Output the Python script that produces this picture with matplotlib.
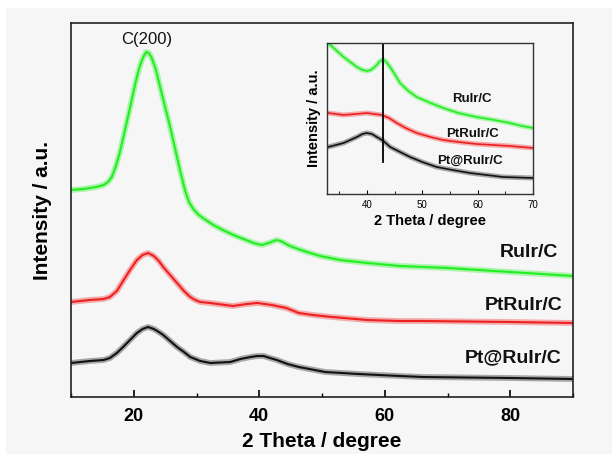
import matplotlib
matplotlib.use("Agg")
import matplotlib.pyplot as plt
from matplotlib.patches import Rectangle
from matplotlib.ticker import MultipleLocator

plt.rcParams['font.family'] = ['Liberation Sans', 'DejaVu Sans']

# ---------------- main panel data (2 Theta, intensity a.u.) ----------------
ruir_x = [10, 12, 14, 15.2, 15.9, 16.5, 17.1, 17.8, 18.6, 19.4, 20.3, 20.8, 21.2, 21.6, 22.0, 22.4,
          22.8, 23.5, 24.2, 25, 25.8, 26.6, 27.4, 28.2, 28.8, 29.5, 30.2, 31, 32.7, 34.2, 35.9, 37.5,
          39.1, 40.4, 41.5, 42.3, 42.8, 43.4, 44, 44.9, 46.2, 47.6, 49.7, 52.9, 57.2, 62.4, 70, 80, 90]
ruir_y = [207, 208, 210, 212, 215, 220, 230, 245, 267, 289, 315, 327, 335, 341, 345, 344,
          340, 328, 310, 290, 270, 248, 226, 206, 195, 188, 183, 179, 172, 167, 162, 158,
          154, 152, 154, 156, 157, 156, 154, 151, 148, 145, 141, 137, 134, 131, 129, 125, 121]

ptruir_x = [10, 13, 15.2, 16.2, 17.3, 18.3, 19.4, 20.5, 21.4, 22.3, 23.2, 24.0, 24.7, 25.8, 26.9,
            28, 29, 29.8, 30.6, 32.2, 35.8, 38, 39.7, 42, 44.3, 46.3, 48.5, 51.6, 57.2, 62.4, 66, 80, 90]
ptruir_y = [95, 97, 98, 100, 106, 116, 127, 137, 142, 144, 141, 136, 130, 122, 114,
            106, 100, 97, 95, 94, 91, 93, 94, 92, 89, 84, 82, 80, 77, 76, 76, 75, 74]

ptat_x = [10, 13, 15.2, 16.2, 17.3, 18.3, 19.4, 20.5, 21.4, 22.3, 23.2, 24.0, 24.7, 25.8, 26.9,
          28, 29, 29.8, 30.6, 32.2, 35.4, 37, 38.6, 39.7, 40.7, 41.7, 42.8, 44.5, 46.3, 50.5,
          55.8, 62.4, 66, 80, 90]
ptat_y = [34, 36, 37, 39, 44, 50, 57, 64, 68, 70, 68, 65, 62, 56, 50,
          45, 40, 38, 36, 34, 35, 38, 40, 41, 41, 39, 37, 33, 30, 25,
          23, 21, 20, 19, 18]

# ---------------- inset data ----------------
in_ruir_x = [33, 34, 35.8, 37, 38.2, 39.2, 40, 40.7, 41.2, 41.8, 42.2, 42.7, 43.1, 43.5, 44.2, 45,
             46, 47.5, 49, 51.5, 53.8, 56.5, 59.8, 63, 65.8, 68, 70]
in_ruir_y = [151, 146, 137, 132, 127, 124, 123, 124, 126, 129, 132, 134, 134, 132, 127, 120,
             111, 103, 97, 91, 86, 81, 77, 74, 71, 68, 66]
in_ptruir_x = [33, 35.8, 38, 40, 42.7, 44, 45.4, 47, 49, 51.5, 53.8, 56.5, 59.8, 65.8, 70]
in_ptruir_y = [81, 79, 80, 81, 79, 76, 71, 66, 61, 57, 54, 52, 50, 48, 46]
in_ptat_x = [33, 35.8, 37, 38.2, 39.2, 40, 40.9, 41.8, 43, 44.2, 46, 47.8, 50, 52.6, 55.5, 58.6,
             64.6, 70]
in_ptat_y = [47, 51, 54, 57, 60, 61, 60, 57, 53, 47, 42, 37, 32, 27, 24, 21, 17, 16]
ref_line_x = 43.0

labels = ["RuIr/C", "PtRuIr/C", "Pt@RuIr/C"]
colors = ["#22ee22", "#ee2020", "#111111"]

main_xticks = [20, 40, 60, 80]
inset_xticks = [40, 50, 60, 70]

# ---------------- figure ----------------
W, H = 612, 454
fig = plt.figure(figsize=(W / 100, H / 100), dpi=100)
fig.patch.set_facecolor("white")
bg = "#f6f6f6"
fig.add_artist(Rectangle((6 / W, 0), 1, 1 - 8 / H, transform=fig.transFigure,
                         facecolor=bg, edgecolor="none", zorder=-10))

ax = fig.add_axes([71 / W, 1 - 397 / H, (573 - 71) / W, (397 - 23) / H])
ax.set_facecolor(bg)

series = [(ruir_x, ruir_y), (ptruir_x, ptruir_y), (ptat_x, ptat_y)]
for (x, y), c in zip(series, colors):
    ax.plot(x, y, color=c, lw=4.2, alpha=0.35, solid_capstyle="round", solid_joinstyle="round")
    ax.plot(x, y, color=c, lw=1.5, solid_joinstyle="round")

ax.set_xlim(10, 90)
ax.set_ylim(0, 374)
ax.set_xticks(main_xticks)
ax.xaxis.set_minor_locator(MultipleLocator(10))
ax.set_yticks([])
ax.tick_params(axis="x", which="major", direction="in", length=5, width=1.2,
               labelsize=13, pad=8)
ax.tick_params(axis="x", which="minor", direction="in", length=3, width=1.0)
for lab in ax.get_xticklabels():
    lab.set_fontweight("bold")
for s in ax.spines.values():
    s.set_linewidth(1.2)
    s.set_color("#222222")
ax.set_xlabel("2 Theta / degree", fontsize=15, fontweight="bold", labelpad=5)
ax.set_ylabel("Intensity / a.u.", fontsize=15, fontweight="bold", labelpad=14)

ax.text(22, 358, "C(200)", fontsize=12, ha="center", va="center", color="#111111")
label_pos = [(87.6, 145), (88.4, 92), (88.1, 39)]
for (lx, ly), t in zip(label_pos, labels):
    ax.text(lx, ly, t, fontsize=14, fontweight="bold", ha="right", va="center",
            color="#111111")

# ---------------- inset ----------------
ins = fig.add_axes([327 / W, 1 - 194 / H, (533 - 327) / W, (194 - 42.5) / H])
ins.set_facecolor(bg)
in_series = [(in_ruir_x, in_ruir_y), (in_ptruir_x, in_ptruir_y), (in_ptat_x, in_ptat_y)]
for (x, y), c in zip(in_series, colors):
    ins.plot(x, y, color=c, lw=3.6, alpha=0.35, solid_capstyle="round", solid_joinstyle="round")
    ins.plot(x, y, color=c, lw=1.2, solid_joinstyle="round")
ins.axvline(ref_line_x, ymin=32 / 151.5, ymax=1, color="black", lw=1.3)
ins.set_xlim(32.8, 70)
ins.set_ylim(0, 151.5)
ins.set_xticks(inset_xticks)
ins.xaxis.set_minor_locator(MultipleLocator(5))
ins.set_yticks([])
ins.tick_params(axis="x", which="major", direction="in", length=3, labelsize=7, pad=4)
ins.tick_params(axis="x", which="minor", direction="in", length=2)
for s in ins.spines.values():
    s.set_linewidth(1.0)
    s.set_color("#333333")
ins.set_xlabel("2 Theta / degree", fontsize=10.5, fontweight="bold", labelpad=3)
ins.set_ylabel("Intensity / a.u.", fontsize=10.5, fontweight="bold", labelpad=4)
in_label_pos = [(62.5, 95), (63.8, 60), (64.5, 33)]
for (lx, ly), t in zip(in_label_pos, labels):
    ins.text(lx, ly, t, fontsize=9.5, fontweight="bold", ha="right", va="center",
             color="#111111")

fig.savefig("out.png", dpi=100, facecolor=fig.get_facecolor())
